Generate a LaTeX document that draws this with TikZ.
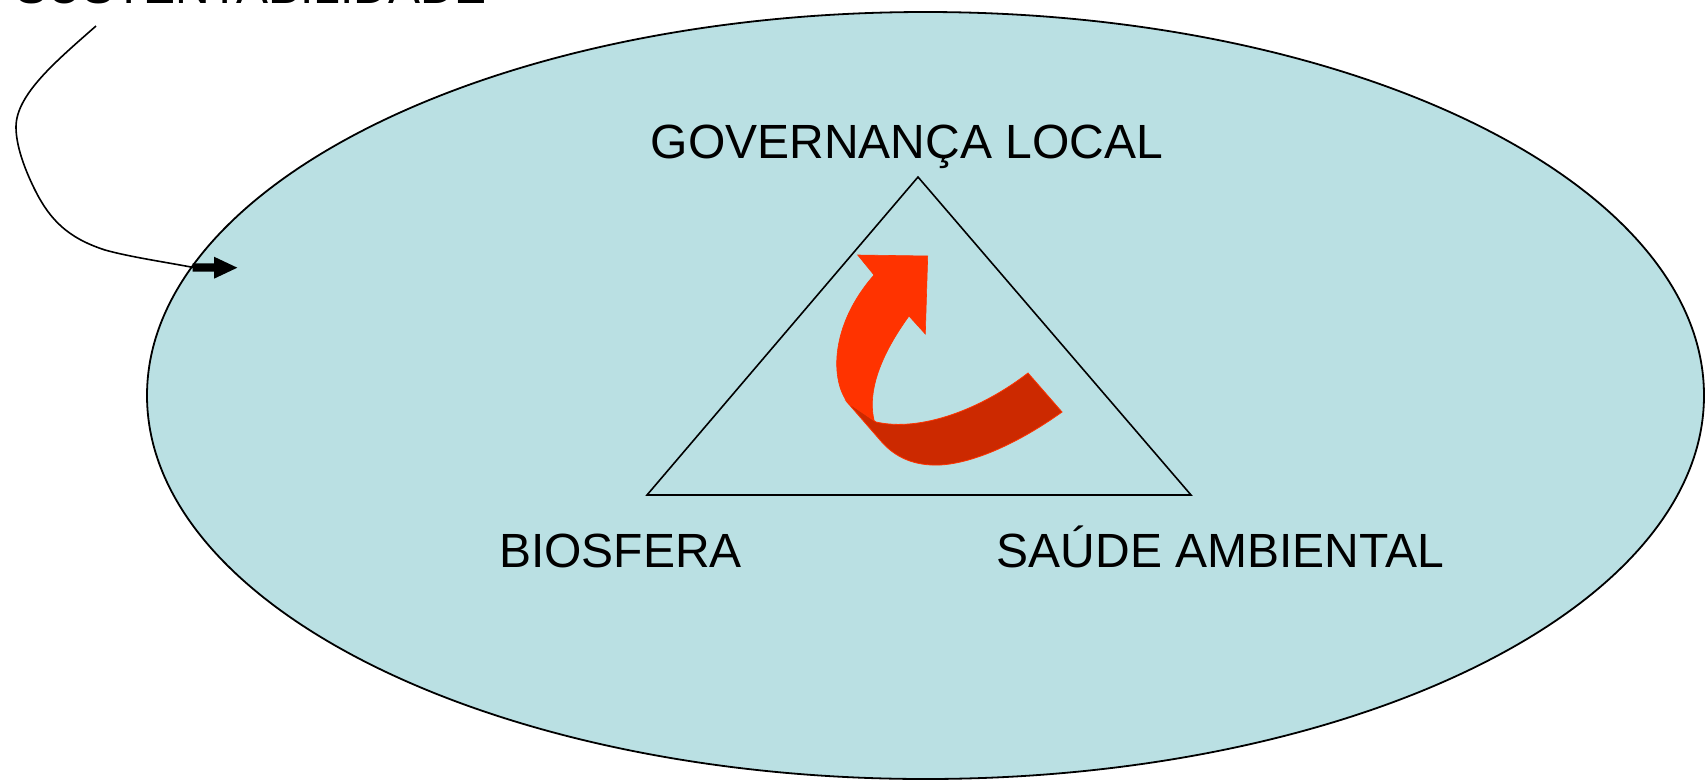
\documentclass[tikz,border=0pt]{standalone}
\usepackage{fontspec}
\setmainfont{Liberation Sans}
\definecolor{ellfill}{RGB}{186,224,227}
\definecolor{arrred}{RGB}{255,51,0}
\definecolor{arrdark}{RGB}{204,41,0}
\tikzset{
  lbl/.style={inner sep=0pt, font=\fontsize{48}{58}\selectfont, text=black},
  ell/.style={draw=black, line width=1.8pt, fill=ellfill},
  tri/.style={draw=black, line width=1.6pt, line join=miter},
  conn/.style={draw=black, line width=1.6pt},
  blockhead/.style={fill=black},
  redfront/.style={fill=arrred, draw=arrred, line width=0.6pt},
  redback/.style={fill=arrdark, draw=arrred, line width=0.8pt},
}
\begin{document}
\begin{tikzpicture}[x=1pt,y=-1pt]
\useasboundingbox (0,0) rectangle (1705,780);
\clip (0,0) rectangle (1705,780);
% ellipse
\path[ell] (925.5,395.5) ellipse [x radius=778.5, y radius=383.5];
% triangle
\coordinate (apex) at (918,177);
\coordinate (bl) at (647,495);
\coordinate (br) at (1191,495);
\draw[tri] (apex) -- (bl) -- (br) -- cycle;
% labels
\node[lbl, anchor=base west] (sust) at (15.5,3.5) {SUSTENTABILIDADE};
\node[lbl, anchor=base] (gov) at (907,158.5) {GOVERNANÇA LOCAL};
\node[lbl, anchor=base] (bio) at (620.5,567.5) {BIOSFERA};
\node[lbl, anchor=base] (sau) at (1220.5,567.5) {SAÚDE AMBIENTAL};
% connector from label to ellipse
\coordinate (cstart) at (96,26);
\coordinate (cend) at (193.5,267.5);
\draw[conn] (cstart) .. controls (55,62) and (16,95) .. (16,127)
  .. controls (16,145) and (24,168) .. (35,190)
  .. controls (50,220) and (68,238) .. (105,250)
  .. controls (130,257) and (165,262) .. (cend);
\path[blockhead] (cend) ++(-0.8,-4.2) -- ++(21.3,0) -- ++(0,-6.6) -- (237.3,267.7)
  -- (214,278.7) -- (214,271.7) -- (192.7,271.7) -- cycle;
% red ribbon arrow: back (dark) part
\path[redback] (847,402) -- (880,440)
  .. controls (895,458) and (915,466) .. (940,465)
  .. controls (975,463) and (1020,442) .. (1062,412)
  -- (1028,373)
  .. controls (980,410) and (920,432) .. (876,422) -- cycle;
% red ribbon arrow: front part with head
\path[redfront] (857.7,255) -- (927.7,256) -- (925.3,334) -- (909,316)
  .. controls (888,345) and (866,385) .. (874,420)
  -- (848,403)
  .. controls (830,380) and (830,325) .. (874,275) -- cycle;
\end{tikzpicture}
\end{document}
